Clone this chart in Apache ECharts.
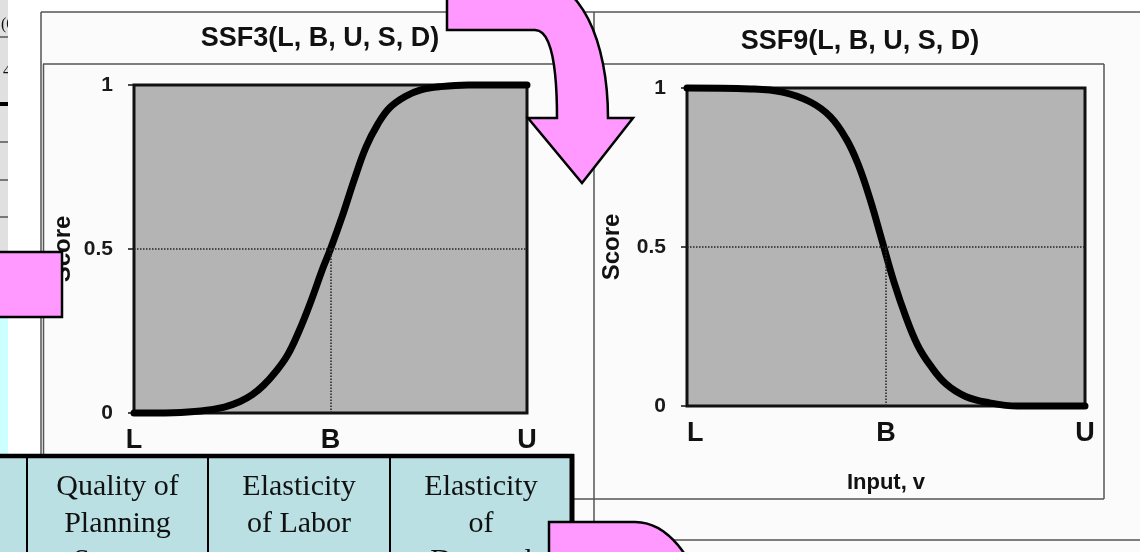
<!DOCTYPE html>
<html>
<head>
<meta charset="utf-8">
<script src="https://cdn.jsdelivr.net/npm/echarts@6/dist/echarts.min.js"></script>
<style>
  html, body { margin: 0; padding: 0; background: #fff; }
  #main { width: 1140px; height: 552px; }
</style>
</head>
<body>
<div id="main"></div>
<script>
// tick labels
const xTickLabels = ['L', 'B', 'U'];
const yTickLabels = ['0', '0.5', '1'];
const titles = ['SSF3(L, B, U, S, D)', 'SSF9(L, B, U, S, D)'];

// SSF3: increasing S curve (input v scaled L..U -> 0..1)
const ssf3V     = [0, 0.10, 0.17, 0.23, 0.27, 0.30, 0.33, 0.36, 0.39, 0.42, 0.45, 0.48, 0.50, 0.53, 0.56, 0.59, 0.62, 0.65, 0.69, 0.73, 0.78, 0.85, 1.00];
const ssf3Score = [0, 0.001, 0.006, 0.018, 0.035, 0.055, 0.085, 0.125, 0.175, 0.25, 0.34, 0.44, 0.50, 0.60, 0.71, 0.81, 0.88, 0.93, 0.965, 0.985, 0.995, 1.0, 1.0];

// SSF9: decreasing S curve
const ssf9V     = [0, 0.16, 0.24, 0.31, 0.36, 0.40, 0.43, 0.46, 0.49, 0.52, 0.55, 0.58, 0.61, 0.65, 0.70, 0.76, 0.83, 1.00];
const ssf9Score = [1, 0.997, 0.987, 0.956, 0.91, 0.84, 0.76, 0.65, 0.52, 0.39, 0.28, 0.19, 0.13, 0.07, 0.03, 0.01, 0.0, 0.0];

// table on top of the slide
const tableCols = [
  ['Quality of', 'Planning', 'System'],
  ['Elasticity', 'of Labor', ''],
  ['Elasticity', 'of', 'Demand']
];

const SANS = '"Liberation Sans", Arial, sans-serif';
const SERIF = '"Liberation Serif", "Times New Roman", serif';
const PINK = '#ff99ff';

function pairs(xs, ys) {
  return xs.map((x, i) => [x, ys[i]]);
}

// one small chart: grid + axes
function gridDef(box) {
  return {
    left: box.left, top: box.top, width: box.width, height: box.height,
    show: true,
    backgroundColor: '#b4b4b4',
    borderColor: '#111',
    borderWidth: 3
  };
}

function xAxisDef(i, minAlign) {
  return {
    gridIndex: i, type: 'value', min: 0, max: 1, interval: 0.5,
    axisLine: {show: false}, axisTick: {show: false}, splitLine: {show: false},
    axisLabel: {
      formatter: v => xTickLabels[Math.round(v * 2)],
      margin: 14, showMinLabel: true, showMaxLabel: true,
      alignMinLabel: minAlign,
      fontFamily: SANS, fontSize: 27, fontWeight: 'bold', color: '#111'
    },
    name: 'Input, v', nameLocation: 'middle', nameGap: 66,
    nameTextStyle: {fontFamily: SANS, fontSize: 22, fontWeight: 'bold', color: '#111'}
  };
}

function yAxisDef(i, gap) {
  return {
    gridIndex: i, type: 'value', min: 0, max: 1, interval: 0.5,
    axisLine: {show: false},
    axisTick: {show: true, length: 6, lineStyle: {color: '#111', width: 1.5}},
    splitLine: {show: false},
    axisLabel: {
      formatter: v => yTickLabels[Math.round(v * 2)],
      margin: 21, fontFamily: SANS, fontSize: 21, fontWeight: 'bold', color: '#1a1a1a'
    },
    name: 'Score', nameLocation: 'middle', nameGap: gap,
    nameTextStyle: {fontFamily: SANS, fontSize: 24, fontWeight: 'bold', color: '#111'}
  };
}

function curveSeries(i, data) {
  return {
    type: 'line', xAxisIndex: i, yAxisIndex: i,
    data: data, smooth: 0.4, showSymbol: false, clip: false,
    lineStyle: {color: '#000', width: 7, cap: 'round'},
    markLine: {
      silent: true, symbol: 'none', label: {show: false},
      lineStyle: {color: '#222', type: 'dotted', width: 1.5},
      data: [
        {yAxis: 0.5},
        [{coord: [0.5, 0]}, {coord: [0.5, 0.5]}]
      ]
    }
  };
}

// helpers for the slide decoration
function ln(x1, y1, x2, y2, w, c, z) {
  return {type: 'line', silent: true, z: z || 1,
    shape: {x1, y1, x2, y2}, style: {stroke: c || '#555', lineWidth: w || 1.5}};
}
function txt(text, x, y, font, align, z) {
  return {type: 'text', silent: true, z: z || 5, x: x, y: y,
    style: {text: text, font: font, fill: '#111', textAlign: align || 'center', textVerticalAlign: 'middle'}};
}
// points along a cubic bezier (for the arrow outlines)
function bez(p0, p1, p2, p3, n) {
  const pts = [];
  for (let k = 1; k <= n; k++) {
    const t = k / n, u = 1 - t;
    pts.push([
      u * u * u * p0[0] + 3 * u * u * t * p1[0] + 3 * u * t * t * p2[0] + t * t * t * p3[0],
      u * u * u * p0[1] + 3 * u * u * t * p1[1] + 3 * u * t * t * p2[1] + t * t * t * p3[1]
    ]);
  }
  return pts;
}

const graphic = [];
// scanned panels
graphic.push({type: 'rect', silent: true, z: -10, shape: {x: 41, y: 12, width: 1099, height: 540}, style: {fill: '#fbfbfb'}});
graphic.push(ln(41, 12, 1140, 12));
graphic.push(ln(41, 12, 41, 499));
graphic.push(ln(43.5, 64, 43.5, 499));
graphic.push(ln(43, 64, 594, 64));
graphic.push(ln(594, 12, 594, 552));
graphic.push(ln(594, 64, 1104, 64));
graphic.push(ln(1104, 64, 1104, 499));
graphic.push(ln(41, 499, 1104, 499));
graphic.push(ln(594, 540, 1140, 540));
graphic.push(txt(titles[0], 320, 39, 'bold 27px ' + SANS));
graphic.push(txt(titles[1], 860, 42, 'bold 27px ' + SANS));

// left-edge fragment of another table
graphic.push({type: 'rect', silent: true, z: 40, shape: {x: 0, y: 0, width: 8, height: 252}, style: {fill: '#e0e0e0'}});
graphic.push(txt('(0', 1, 25, '16px ' + SERIF, 'left', 41));
graphic.push(txt('4', 3, 72, '16px ' + SERIF, 'left', 41));
[37, 142, 180, 217].forEach(y => graphic.push(ln(0, y, 8, y, 1, '#111', 42)));
graphic.push(ln(0, 104, 8, 104, 4, '#000', 42));
graphic.push({type: 'rect', silent: true, z: 43, shape: {x: 8, y: 0, width: 32, height: 252}, style: {fill: '#fff'}});
graphic.push({type: 'rect', silent: true, z: 40, shape: {x: 0, y: 317, width: 8, height: 140}, style: {fill: '#ccffff'}});

// pink box on the left
graphic.push({type: 'rect', silent: true, z: 60, shape: {x: -4, y: 252, width: 66, height: 65},
  style: {fill: PINK, stroke: '#000', lineWidth: 2.5}});

// pink bent arrow at top
const arrowPts = [[447, -21], [535, -21]]
  .concat(bez([535, -21], [580, -21], [608, 40], [608, 118], 16))
  .concat([[633, 118], [582, 183], [528, 118], [557, 118]])
  .concat(bez([557, 118], [557, 70], [552, 30], [535, 30], 12))
  .concat([[447, 30]]);
graphic.push({type: 'polygon', silent: true, z: 60,
  shape: {points: arrowPts},
  style: {fill: PINK, stroke: '#000', lineWidth: 2.5, lineJoin: 'miter'}});

// table at the bottom
const colX = [-5, 27, 208, 390, 572];
graphic.push({type: 'rect', silent: true, z: 70, shape: {x: -5, y: 456, width: 577, height: 110},
  style: {fill: '#bae0e4', stroke: '#000', lineWidth: 2}});
graphic.push(ln(-5, 456, 574, 456, 4.5, '#000', 71));
graphic.push(ln(572, 454, 572, 560, 5, '#000', 71));
colX.slice(1, 4).forEach(x => graphic.push(ln(x, 456, x, 560, 2, '#000', 71)));
tableCols.forEach((col, c) => {
  const cx = (colX[c + 1] + colX[c + 2]) / 2;
  col.forEach((t, r) => {
    if (t) graphic.push(txt(t, cx, 487 + r * 37, '30px ' + SERIF, 'center', 72));
  });
});

// pink shape at bottom right
const blobPts = [[549, 565], [549, 522], [635, 522]]
  .concat(bez([635, 522], [656, 522], [673, 536], [686, 556], 10))
  .concat([[690, 565]]);
graphic.push({type: 'polygon', silent: true, z: 80,
  shape: {points: blobPts},
  style: {fill: PINK, stroke: '#000', lineWidth: 2.5}});

const option = {
  backgroundColor: '#ffffff',
  animation: false,
  grid: [
    gridDef({left: 134, top: 85, width: 393, height: 328}),
    gridDef({left: 687, top: 88, width: 398, height: 318})
  ],
  xAxis: [xAxisDef(0, 'center'), xAxisDef(1, 'left')],
  yAxis: [yAxisDef(0, 59), yAxisDef(1, 63)],
  series: [
    curveSeries(0, pairs(ssf3V, ssf3Score)),
    curveSeries(1, pairs(ssf9V, ssf9Score))
  ],
  graphic: graphic
};

const myChart = echarts.init(document.getElementById('main'));
myChart.setOption(option);
</script>
</body>
</html>
